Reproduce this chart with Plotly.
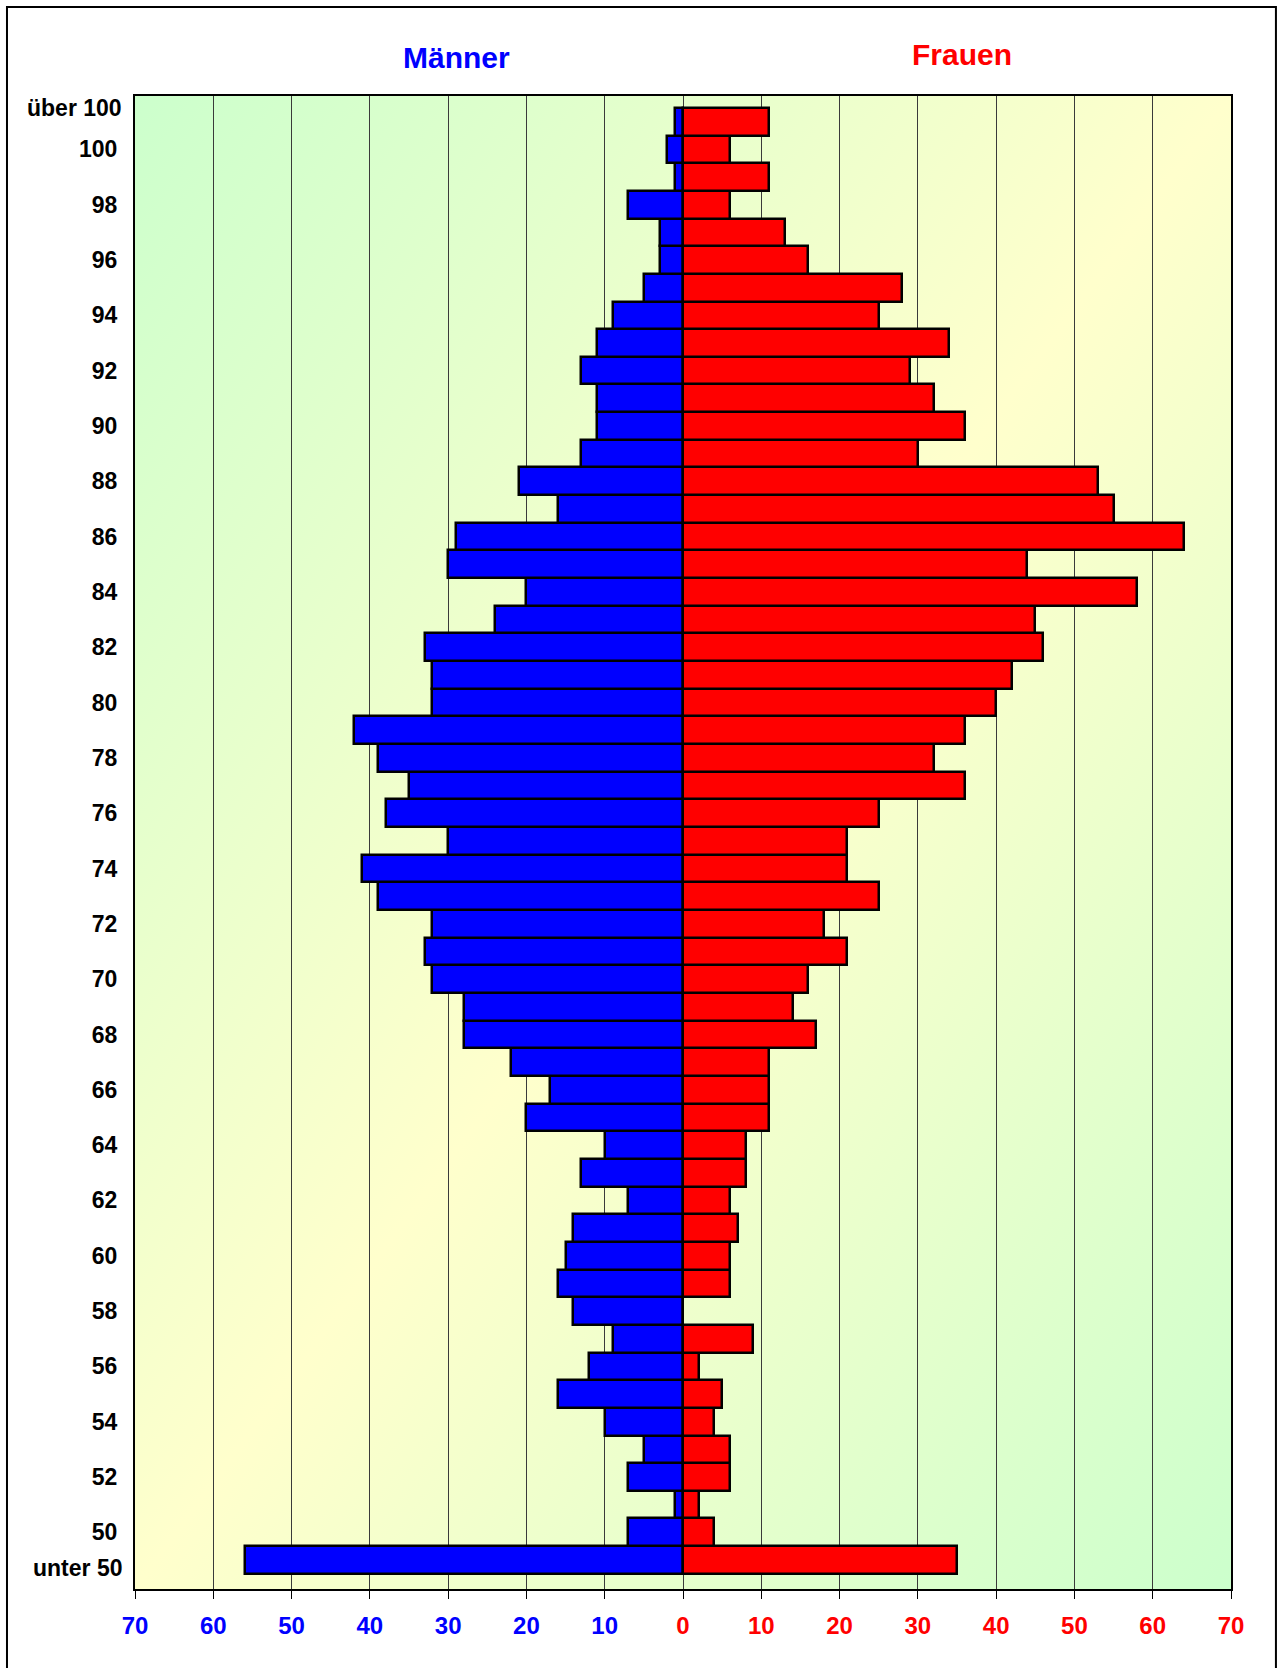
import base64
import plotly.graph_objects as go

# age groups from bottom to top
ages = ["unter 50"] + [str(a) for a in range(50, 101)] + ["über 100"]

# Männer, same order as ages
maenner = [56, 7, 1, 7, 5, 10, 16, 12, 9, 14,
           16, 15, 14, 7, 13, 10, 20, 17, 22, 28,
           28, 32, 33, 32, 39, 41, 30, 38, 35, 39,
           42, 32, 32, 33, 24, 20, 30, 29, 16, 21,
           13, 11, 11, 13, 11, 9, 5, 3, 3, 7,
           1, 2, 1]

# Frauen, same order as ages
frauen = [35, 4, 2, 6, 6, 4, 5, 2, 9, 0,
          6, 6, 7, 6, 8, 8, 11, 11, 11, 17,
          14, 16, 21, 18, 25, 21, 21, 25, 36, 32,
          36, 40, 42, 46, 45, 58, 44, 64, 55, 53,
          30, 36, 32, 29, 34, 25, 28, 16, 13, 6,
          11, 6, 11]

# even ages get a tick label; the two open groups are labelled separately
ylabels = [str(a) for a in range(50, 101, 2)]
xticks = list(range(-70, 71, 10))

def tick_text(v):
    if v < 0:
        return "<span style='color:#0000FF'>%d</span>" % abs(v)
    return "<span style='color:#FF0000'>%d</span>" % v

# diagonal green-yellow-green background
svg = (
    "<svg xmlns='http://www.w3.org/2000/svg' width='100' height='100' "
    "preserveAspectRatio='none' viewBox='0 0 100 100'>"
    "<defs><linearGradient id='g' x1='0' y1='0' x2='1' y2='1'>"
    "<stop offset='0' stop-color='#CCFFCC'/>"
    "<stop offset='0.5' stop-color='#FFFFCC'/>"
    "<stop offset='1' stop-color='#CCFFCC'/>"
    "</linearGradient></defs>"
    "<rect width='100' height='100' fill='url(#g)'/></svg>"
)
bg_src = "data:image/svg+xml;base64," + base64.b64encode(svg.encode()).decode()

fig = go.Figure()
fig.add_trace(go.Bar(
    y=ages, x=[-v for v in maenner], orientation="h", name="Männer",
    width=1, marker=dict(color="#0000FF", line=dict(color="black", width=2.5)),
))
fig.add_trace(go.Bar(
    y=ages, x=frauen, orientation="h", name="Frauen",
    width=1, marker=dict(color="#FF0000", line=dict(color="black", width=2.5)),
))

label_font = dict(size=23, weight="bold", color="black")

fig.update_layout(
    width=1284, height=1668,
    margin=dict(l=135, r=53, t=96, b=79),
    paper_bgcolor="white", plot_bgcolor="rgba(0,0,0,0)",
    barmode="overlay", bargap=0, showlegend=False,
    font=dict(family="Liberation Sans, Arial", color="black"),
    images=[dict(source=bg_src, xref="paper", yref="paper", x=0, y=1,
                 sizex=1, sizey=1, sizing="stretch", layer="below",
                 xanchor="left", yanchor="top")],
    annotations=[
        dict(text="<b>Männer</b>", xref="paper", yref="paper", x=0.293, y=1.0255,
             xanchor="center", yanchor="middle",
             showarrow=False, font=dict(size=30, color="#0000FF")),
        dict(text="<b>Frauen</b>", xref="paper", yref="paper", x=0.755, y=1.0277,
             xanchor="center", yanchor="middle",
             showarrow=False, font=dict(size=30, color="#FF0000")),
        dict(text="über 100", xref="paper", yref="y", x=-0.010, y=ages[-1],
             xanchor="right", yanchor="middle", yshift=14,
             showarrow=False, font=label_font),
        dict(text="unter 50", xref="paper", yref="y", x=-0.010, y=ages[0],
             xanchor="right", yanchor="middle", yshift=-8,
             showarrow=False, font=label_font),
    ],
    shapes=[dict(type="rect", xref="paper", yref="paper",
                 x0=-0.1168, x1=1.041, y0=-0.08, y1=1.0596,
                 line=dict(color="black", width=2))],
)

fig.update_xaxes(
    range=[-70, 70], tickvals=xticks, ticktext=[tick_text(v) for v in xticks],
    tickfont=dict(size=24, weight="bold"), ticks="outside", ticklen=8,
    tickcolor="black", ticklabelstandoff=6,
    showgrid=True, gridcolor="#3a3a3a", gridwidth=1, zeroline=False,
    showline=True, linecolor="black", linewidth=2, mirror=True,
)
fig.update_yaxes(
    type="category", categoryorder="array", categoryarray=ages,
    range=[-1.05, 52.93], tickvals=ylabels, ticktext=ylabels,
    tickfont=label_font,
    ticks="", ticklabelstandoff=11, showgrid=False, zeroline=False,
    showline=True, linecolor="black", linewidth=2, mirror=True,
)

fig.write_html("out.html", config={"displayModeBar": False},
               post_script="document.body.style.margin='0';")
